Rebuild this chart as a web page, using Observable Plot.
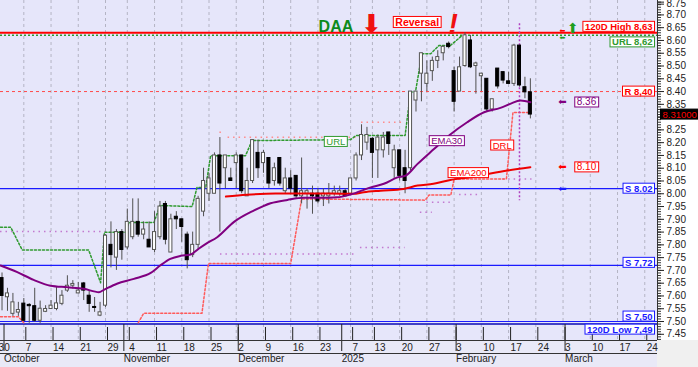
<!DOCTYPE html>
<html><head><meta charset="utf-8">
<script src="https://cdn.jsdelivr.net/npm/d3@7"></script>
<script src="https://cdn.jsdelivr.net/npm/@observablehq/plot@0.6"></script>
<style>
html,body{margin:0;padding:0;background:#fff;}
#chart{width:698px;height:367px;overflow:hidden;}
</style></head><body><div id="chart"></div>
<script>
// ---------- DATA (trading-day index: 0 = 7 Oct 2024) ----------
const firstDay = -4;
const open = [7.67,7.595,7.53,7.535,7.57,7.565,7.56,7.503,7.538,7.549,7.549,7.569,7.621,7.640,7.610,7.649,7.601,7.557,7.523,7.562,
 7.80,7.75,7.85,7.79,7.83,7.89,7.84,7.82,7.78,7.83,7.96,7.77,7.91,7.90,7.84,
 7.76,7.80,7.93,8.00,8.00,8.15,8.10,8.06,8.12,8.15,
 7.99,8.05,8.16,8.12,8.14,8.05,8.14,8.01,8.06,8.07,
 7.99,8.00,8.00,8.00,7.99,7.99,8.00,8.00,8.01,8.00,
 8.06,8.15,8.20,8.215,8.17,8.17,8.24,8.10,8.17,8.10,
 8.10,8.365,8.47,8.43,8.48,8.52,8.55,8.587,8.48,8.40,
 8.50,8.60,8.50,8.46,8.45,8.33,8.49,8.476,8.44,8.43,
 8.58,8.417,8.397];
const high = [7.69,7.63,7.61,7.575,7.59,7.57,7.63,7.58,7.562,7.582,7.634,7.621,7.679,7.660,7.653,7.653,7.621,7.594,7.575,7.84,
 7.89,7.86,7.86,7.94,7.98,7.98,7.89,7.89,7.93,7.97,7.97,7.92,7.93,7.90,7.85,
 7.85,7.99,8.10,8.08,8.16,8.22,8.15,8.10,8.16,8.15,
 8.10,8.21,8.21,8.17,8.14,8.12,8.14,8.10,8.09,8.07,
 8.14,8.02,8.03,8.02,8.02,8.04,8.03,8.03,8.02,8.06,
 8.16,8.27,8.26,8.22,8.23,8.24,8.24,8.19,8.17,8.17,
 8.40,8.40,8.55,8.52,8.535,8.56,8.58,8.594,8.495,8.535,
 8.63,8.62,8.515,8.47,8.45,8.37,8.49,8.476,8.476,8.585,
 8.58,8.456,8.45];
const low = [7.542,7.54,7.52,7.52,7.50,7.493,7.497,7.493,7.535,7.549,7.542,7.562,7.614,7.627,7.608,7.582,7.536,7.536,7.519,7.555,
 7.71,7.70,7.74,7.78,7.82,7.83,7.82,7.79,7.77,7.82,7.80,7.77,7.86,7.81,7.706,
 7.75,7.78,7.91,7.97,8.00,7.85,8.02,8.05,8.02,8.00,
 7.99,8.04,8.06,8.08,8.02,8.03,8.03,8.00,8.00,7.98,
 7.96,7.94,7.92,7.96,7.95,7.96,7.99,7.99,7.99,8.00,
 8.05,8.13,8.17,8.06,8.06,8.14,8.15,8.06,8.05,8.00,
 8.09,8.32,8.36,8.40,8.44,8.49,8.52,8.567,8.32,8.40,
 8.495,8.49,8.39,8.40,8.32,8.32,8.41,8.43,8.43,8.42,
 8.417,8.372,8.293];
const close = [7.60,7.61,7.575,7.545,7.503,7.56,7.503,7.55,7.549,7.562,7.571,7.601,7.640,7.647,7.621,7.621,7.569,7.553,7.536,7.836,
 7.76,7.85,7.78,7.89,7.89,7.84,7.86,7.79,7.85,7.95,7.82,7.90,7.90,7.87,7.74,
 7.80,7.98,8.05,8.06,8.15,8.04,8.15,8.05,8.15,8.01,
 8.05,8.21,8.10,8.16,8.04,8.10,8.04,8.06,8.02,7.99,
 8.01,8.01,7.99,7.97,8.00,8.00,8.01,8.01,7.99,8.06,
 8.15,8.23,8.23,8.16,8.22,8.22,8.195,8.17,8.07,8.05,
 8.40,8.40,8.55,8.47,8.52,8.535,8.575,8.574,8.36,8.495,
 8.62,8.495,8.51,8.47,8.33,8.37,8.42,8.443,8.43,8.58,
 8.424,8.397,8.31];

const ema30Day = [-4.28,-1.2,1.8,4.9,8.0,11.0,13.8,14.7,17.1,20.2,23.3,25.1,26.9,28.8,30.6,32.1,33.5,35.5,38.6,42.2,45.3,48.4,51.4,54.5,57.5,60,63.7,66.1,68.6,70.1,72.2,75.3,78.3,81.4,84.5,87.5,89.3,91.2,93];
const ema30Value = [7.719,7.693,7.663,7.640,7.634,7.628,7.615,7.624,7.648,7.667,7.690,7.720,7.745,7.757,7.762,7.785,7.805,7.830,7.890,7.934,7.963,7.976,7.984,7.984,7.986,7.997,8.025,8.039,8.064,8.071,8.115,8.175,8.232,8.280,8.319,8.336,8.352,8.365,8.358];

const ema200Day = [37.1,40.9,46.2,56.3,60.5,62.4,65.5,69.7,72.3,75.2,78.3,82,85.3,88.8,93];
const ema200Value = [7.989,7.996,8.001,8.001,8.000,8.006,8.012,8.019,8.032,8.039,8.054,8.065,8.078,8.091,8.104];

const urlDay = [-4.28,-2.4,-0.3,11.9,14.1,14.8,18.7,19.3,23.9,25,30.9,31.8,33.4,34.3,40.7,41.9,60,61,70,71,71.9,73.1,74.7,76.2,78.3,80.5];
const urlValue = [7.869,7.869,7.780,7.780,7.652,7.849,7.849,7.888,7.888,7.954,7.950,8.025,8.025,8.149,8.149,8.208,8.212,8.228,8.228,8.398,8.398,8.548,8.548,8.580,8.580,8.620];

const drl1Day = [-4.28,-1,0];
const drl1Value = [7.519,7.519,7.495];
const drl2Day = [21,22,32.7,33.9,49,51,73.7,74.4,78.4,79,88.6,89.8,93];
const drl2Value = [7.495,7.532,7.532,7.727,7.727,7.980,7.975,7.995,7.995,8.058,8.058,8.318,8.318];

// dotted previous-period levels: from day, to day, value
const lowPivotFrom = [-4.28,36.1,61.8,72.8,74,80,88];
const lowPivotTo   = [15.3,61.2,70,75,78.3,84,93.3];
const lowPivotValue= [7.852,7.764,7.790,7.928,7.967,7.997,8.058];
const highPivotFrom = [36,37.5,62];
const highPivotTo   = [37,61.2,70];
const highPivotValue= [8.241,8.221,8.280];

const levelValue = [8.63, 8.62, 8.40, 8.02, 7.72, 7.50, 7.49];
const levelLabel = ["120D High 8,63","URL 8,62","R 8,40","S 8.02","S 7,72","S 7,50","120D Low 7,49"];

const yTickValue = [7.45,7.50,7.55,7.60,7.65,7.70,7.75,7.80,7.85,7.90,7.95,8.00,8.05,8.10,8.15,8.20,8.25,8.30,8.35,8.40,8.45,8.50,8.55,8.60,8.65,8.70,8.75];
const weekTickDay = [-5,0,5,10,15,19,24,29,34,39,44,49,54,60,64,69,74,79,84,89,94,99,104,109,114];
const weekTickLabel = ["30","7","14","21","29","4","11","18","25","2","9","16","23","7","13","20","27","3","10","17","24","3","10","17","24"];
const monthTickDay = [-4,18,39,58,79,99];
const monthTickLabel = ["October","November","December","2025","February","March"];
const markerDay = 91;

// ---------- BUILD ----------
const candles = open.map((o, i) => ({day: firstDay + i, open: o, high: high[i], low: low[i], close: close[i]}));
const rising = candles.filter(c => c.close >= c.open);
const falling = candles.filter(c => c.close < c.open);
const zip = (xs, ys) => xs.map((x, i) => ({day: x, value: ys[i]}));
const segs = (a, b, v) => a.map((x, i) => ({x1: x, x2: b[i], y: v[i]}));
const weekLabel = new Map(weekTickDay.map((d, i) => [d, weekTickLabel[i]]));
const monthLabel = new Map(monthTickDay.map((d, i) => [d, monthTickLabel[i]]));
const minorTicks = d3.range(743, 876).map(i => i / 100);
const lastClose = close.at(-1);
const topTick = yTickValue.at(-1);
const tickLabel = v => (Math.abs(v - lastClose) < 0.02 || v === topTick) ? "" : v.toFixed(2);

const RED = "#ff0000", GREEN = "#2f9a2f", BLUE = "#1a1aff", PURPLE = "#800080";
const levelStyle = [
  {color: RED, dy: -6}, {color: GREEN, dy: 7}, {color: RED, dy: 0}, {color: BLUE, dy: 0},
  {color: BLUE, dy: -2.5}, {color: BLUE, dy: -5}, {color: BLUE, dy: 5.5}
];
const ARROWFONT = "DejaVu Sans";

const marks = [
  Plot.ruleX(weekTickDay, {stroke: "#b4b4c4", strokeDasharray: "3,3"}),
  Plot.ruleY(segs(lowPivotFrom, lowPivotTo, lowPivotValue), {x1: "x1", x2: "x2", y: "y", stroke: "#c27ad0", strokeWidth: 1.5, strokeDasharray: "1.5,4"}),
  Plot.ruleY(segs(highPivotFrom, highPivotTo, highPivotValue), {x1: "x1", x2: "x2", y: "y", stroke: "#ff8c8c", strokeWidth: 1.5, strokeDasharray: "1.5,4"}),
  Plot.ruleY([levelValue[2]], {stroke: "#ff4a4a", strokeWidth: 1, strokeDasharray: "3,3"}),
  Plot.ruleY([levelValue[1]], {stroke: GREEN, strokeWidth: 1.5, strokeDasharray: "2,2"}),
  Plot.ruleY([levelValue[3], levelValue[4], levelValue[5]], {stroke: BLUE, strokeWidth: 1.2}),
  Plot.ruleY([levelValue[6]], {stroke: "#0a0ab4", strokeWidth: 1.5}),
  Plot.ruleY([levelValue[0]], {stroke: RED, strokeWidth: 2}),
  Plot.line(zip(urlDay, urlValue), {x: "day", y: "value", stroke: GREEN, strokeWidth: 1.5, strokeDasharray: "2,2"}),
  Plot.line(zip(drl1Day, drl1Value), {x: "day", y: "value", stroke: "#ff5a5a", strokeWidth: 1.5, strokeDasharray: "2,2"}),
  Plot.line(zip(drl2Day, drl2Value), {x: "day", y: "value", stroke: "#ff5a5a", strokeWidth: 1.5, strokeDasharray: "2,2"}),
  Plot.ruleX([markerDay], {y1: 8.665, y2: 7.973, stroke: "#b040c0", strokeWidth: 1.5, strokeDasharray: "2,2"}),
  Plot.ruleX(candles, {x: "day", y1: "low", y2: "high", stroke: "#505050", strokeWidth: 1}),
  Plot.rect(rising, {x1: c => c.day - 0.5, x2: c => c.day + 0.5, y1: "open", y2: "close", insetLeft: 1.2, insetRight: 1.2, fill: "white", stroke: "#555", strokeWidth: 1}),
  Plot.rect(falling, {x1: c => c.day - 0.5, x2: c => c.day + 0.5, y1: "open", y2: "close", insetLeft: 1.2, insetRight: 1.2, fill: "black", stroke: "black", strokeWidth: 1}),
  Plot.line(zip(ema200Day, ema200Value), {x: "day", y: "value", stroke: "#ee0000", strokeWidth: 2, curve: "monotone-x"}),
  Plot.line(zip(ema30Day, ema30Value), {x: "day", y: "value", stroke: PURPLE, strokeWidth: 2, curve: "monotone-x"}),
  Plot.axisY(minorTicks, {anchor: "right", tickSize: 3, tickFormat: () => "", color: "#333", label: null}),
  Plot.axisY(yTickValue, {anchor: "right", tickSize: 6, tickPadding: 3, tickFormat: tickLabel, fontSize: 10, color: "#222", label: null}),
  Plot.axisY([topTick], {anchor: "right", tickSize: 6, tickPadding: 3, tickFormat: v => v.toFixed(2), dy: 2, fontSize: 10, color: "#222", label: null}),
  Plot.axisX(weekTickDay, {anchor: "bottom", tickSize: 13, tickFormat: d => weekLabel.get(d), textAnchor: "start", dx: 2, dy: -13, fontSize: 10, color: "#222", label: null}),
  Plot.axisX(monthTickDay, {anchor: "bottom", tickSize: 27, tickFormat: d => monthLabel.get(d), textAnchor: "start", dx: 2, dy: -16, fontSize: 10, color: "#222", label: null}),
];

levelValue.forEach((v, i) => {
  marks.push(Plot.text([v], {y: d => d, text: () => levelLabel[i], frameAnchor: "right", textAnchor: "end", dx: -5, dy: levelStyle[i].dy,
    fill: levelStyle[i].color, fontWeight: "bold", fontSize: 9.5, ariaDescription: "box-white"}));
});
const emaLast = [{v: ema30Value.at(-1), c: PURPLE}, {v: ema200Value.at(-1), c: RED}];
emaLast.forEach(e => {
  marks.push(Plot.text([e.v], {y: d => d, text: d => d.toFixed(2), frameAnchor: "right", textAnchor: "middle", dx: -71, fill: e.c, fontSize: 10, ariaDescription: "box-white"}));
  marks.push(Plot.text([e.v], {y: d => d, text: () => "⬅", frameAnchor: "right", textAnchor: "middle", dx: -95, fill: e.c, fontSize: 10, fontFamily: ARROWFONT}));
});
marks.push(Plot.text([levelValue[3]], {y: d => d, text: () => "⬅", frameAnchor: "right", textAnchor: "middle", dx: -95, fill: BLUE, fontSize: 10, fontFamily: ARROWFONT}));
marks.push(Plot.text([lastClose], {y: d => d, text: d => d.toFixed(5), frameAnchor: "right", textAnchor: "start", dx: 5, fill: RED, fontSize: 9.5, ariaDescription: "box-black"}));

const inLabels = [
  {t: "URL", day: 57.28, v: 8.203, c: GREEN},
  {t: "EMA30", day: 77.66, v: 8.206, c: PURPLE},
  {t: "EMA200", day: 81.6, v: 8.081, c: RED},
  {t: "DRL", day: 87.83, v: 8.189, c: RED}
];
inLabels.forEach(l => marks.push(Plot.text([l], {x: "day", y: "v", text: "t", fill: l.c, fontSize: 9.5, ariaDescription: "box-white"})));
marks.push(Plot.text(["⬆"], {x: 100.8, y: 8.647, text: d => d, fill: "#1e9e1e", fontSize: 14, fontFamily: ARROWFONT}));
marks.push(Plot.text(["⬅"], {x: 98.9, y: 8.639, text: d => d, fill: RED, fontSize: 7, fontFamily: ARROWFONT}));
marks.push(Plot.text(["⬅"], {x: 98.9, y: 8.609, text: d => d, fill: "#1e9e1e", fontSize: 7, fontFamily: ARROWFONT}));
marks.push(Plot.text(["DAA"], {x: 57.3, frameAnchor: "top", dy: 20, text: d => d, fill: "#0d8a1c", fontSize: 16, fontWeight: "bold"}));
marks.push(Plot.text(["⬇"], {x: 63.8, frameAnchor: "top", dy: 14, text: d => d, fill: "#f01010", fontSize: 26, fontFamily: ARROWFONT}));
marks.push(Plot.text(["Reversal"], {x: 72.22, frameAnchor: "top", dy: 18, text: d => d, fill: RED, fontSize: 10.5, fontWeight: "bold", ariaDescription: "box-white"}));
marks.push(Plot.text(["!"], {x: 78.8, frameAnchor: "top", dy: 13, text: d => d, fill: "#f01010", fontSize: 29, fontWeight: "bold", fontStyle: "italic"}));

const svg = Plot.plot({
  width: 698, height: 367,
  marginLeft: 0, marginRight: 41, marginTop: 0, marginBottom: 27,
  style: {background: "#e6e6fa", fontFamily: "'Liberation Sans', Arial, sans-serif", fontSize: "11px"},
  x: {type: "linear", domain: [-4.28, 116.34]},
  y: {type: "linear", domain: [7.4257, 8.7564]},
  marks
});
document.getElementById("chart").append(svg);

// ---------- chrome: axis panel backgrounds, frame lines, label boxes ----------
const NS = "http://www.w3.org/2000/svg";
const W = 698, H = 367, R = W - 41, B = H - 27;
function el(name, attrs) { const e = document.createElementNS(NS, name); for (const k in attrs) e.setAttribute(k, attrs[k]); return e; }
const firstMark = svg.querySelector("g");
svg.insertBefore(el("rect", {x: R, y: 0, width: W - R, height: B, fill: "#ffffff"}), firstMark);
svg.insertBefore(el("rect", {x: 0, y: B, width: R, height: H - B, fill: "#e9e9f7"}), firstMark);
svg.insertBefore(el("rect", {x: R, y: B, width: W - R, height: H - B, fill: "#f0f0f0"}), firstMark);
svg.append(el("line", {x1: R + 0.5, x2: R + 0.5, y1: 0, y2: B, stroke: "#333"}));
svg.append(el("line", {x1: 0, x2: R, y1: B + 0.5, y2: B + 0.5, stroke: "#333"}));
svg.append(el("line", {x1: 0, x2: R, y1: B + 13.5, y2: B + 13.5, stroke: "#333"}));

function boxes(kind, fill) {
  svg.querySelectorAll(`g[aria-description="${kind}"] text`).forEach(t => {
    const b = t.getBBox();
    const col = getComputedStyle(t).fill;
    const r = el("rect", {x: b.x - 2, y: b.y + 0.5, width: b.width + 4, height: b.height - 1,
      fill, stroke: fill === "black" ? "black" : col, "stroke-width": 1});
    if (t.getAttribute("transform")) r.setAttribute("transform", t.getAttribute("transform"));
    t.parentNode.insertBefore(r, t);
  });
}
boxes("box-white", "white");
boxes("box-black", "black");
</script>
</body></html>
